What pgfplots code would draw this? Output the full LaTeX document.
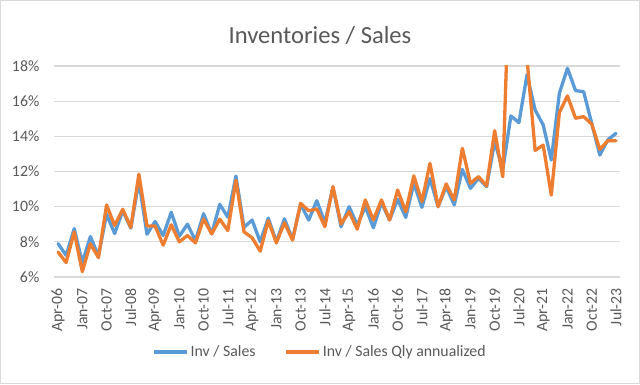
\documentclass[border=0pt]{standalone}
\usepackage{pgfplots}
\pgfplotsset{compat=1.18}
\usepackage{pgfplotstable}
\usepackage{fontspec}
\setmainfont{Carlito}
\definecolor{txtgray}{RGB}{89,89,89}
\definecolor{gridgray}{RGB}{217,217,217}
\definecolor{exblue}{RGB}{91,155,213}
\definecolor{exorange}{RGB}{237,125,49}

\pgfplotstableread{
i blue orange
0 7.90 7.42
1 7.23 6.82
2 8.75 8.56
3 6.82 6.30
4 8.30 7.89
5 7.20 7.10
6 9.57 10.10
7 8.47 8.93
8 9.76 9.85
9 8.78 8.82
10 11.45 11.85
11 8.43 8.90
12 9.16 8.90
13 8.36 7.81
14 9.68 8.97
15 8.32 8.00
16 9.00 8.36
17 8.07 7.94
18 9.60 9.30
19 8.45 8.45
20 10.13 9.29
21 9.40 8.64
22 11.74 11.50
23 8.82 8.57
24 9.24 8.23
25 8.00 7.47
26 9.35 9.20
27 8.00 7.94
28 9.31 9.09
29 8.13 8.10
30 10.15 10.19
31 9.24 9.77
32 10.34 9.87
33 9.09 8.86
34 11.10 11.14
35 8.86 9.01
36 10.00 9.71
37 8.95 8.72
38 10.00 10.38
39 8.80 9.24
40 10.23 10.38
41 9.24 9.24
42 10.42 10.95
43 9.39 9.71
44 11.33 11.75
45 9.96 10.29
46 11.60 12.46
47 10.00 10.00
48 11.14 11.29
49 10.10 10.38
50 12.12 13.32
51 11.04 11.33
52 11.61 11.71
53 11.14 11.18
54 13.70 14.32
55 12.09 11.70
56 15.16 26.00
57 14.78 22.00
58 17.50 18.40
59 15.50 13.20
60 14.65 13.50
61 12.65 10.66
62 16.45 15.35
63 17.87 16.30
64 16.60 15.03
65 16.54 15.12
66 14.74 14.70
67 12.94 13.26
68 13.80 13.75
69 14.17 13.75
}\datatable

\begin{document}
\begin{tikzpicture}[x=1bp,y=1bp]
\useasboundingbox (0,0) rectangle (640,384);
\fill[white] (0,0) rectangle (640,384);
\draw[gridgray, line width=1bp] (0.5,0.5) rectangle (639.5,383.5);
\node[text=txtgray, font=\fontsize{24.6bp}{29bp}\selectfont] at (320,349) {Inventories / Sales};
\begin{axis}[
  at={(54bp,107bp)}, anchor=south west,
  scale only axis, width=566bp, height=211bp,
  xmin=-0.5, xmax=69.5, ymin=6, ymax=18,
  axis line style={draw=none},
  major tick length=0pt,
  ytick={6,8,10,12,14,16,18},
  yticklabels={6\%,8\%,10\%,12\%,14\%,16\%,18\%},
  xtick={0,3,...,69},
  xticklabels={Apr-06,Jan-07,Oct-07,Jul-08,Apr-09,Jan-10,Oct-10,Jul-11,Apr-12,Jan-13,Oct-13,Jul-14,Apr-15,Jan-16,Oct-16,Jul-17,Apr-18,Jan-19,Oct-19,Jul-20,Apr-21,Jan-22,Oct-22,Jul-23},
  ymajorgrids, xmajorgrids=false,
  grid style={gridgray, line width=1.3bp},
  yticklabel style={text=txtgray, font=\fontsize{15.8bp}{19bp}\selectfont, inner sep=0pt, anchor=east, xshift=-14.5bp},
  xticklabel style={text=txtgray, font=\fontsize{15.8bp}{19bp}\selectfont, inner sep=0pt, yshift=-11bp, rotate=90, anchor=east},
  legend style={at={(0.47,-0.355)}, anchor=center, draw=none, fill=none,
    font=\fontsize{15.8bp}{19bp}\selectfont, text=txtgray, legend columns=2,
    /tikz/every even column/.append style={column sep=27bp}},
  legend image code/.code={\draw[#1, line cap=butt] (0bp,0bp) -- (33bp,0bp);},
  every axis plot/.append style={line width=3.3bp, line join=round, line cap=round},
]
\addplot[exblue, mark=none] table[x=i, y=blue] {\datatable};
\addlegendentry{Inv / Sales}
\addplot[exorange, mark=none] table[x=i, y=orange] {\datatable};
\addlegendentry{Inv / Sales Qly annualized}
\end{axis}
\end{tikzpicture}
\end{document}
